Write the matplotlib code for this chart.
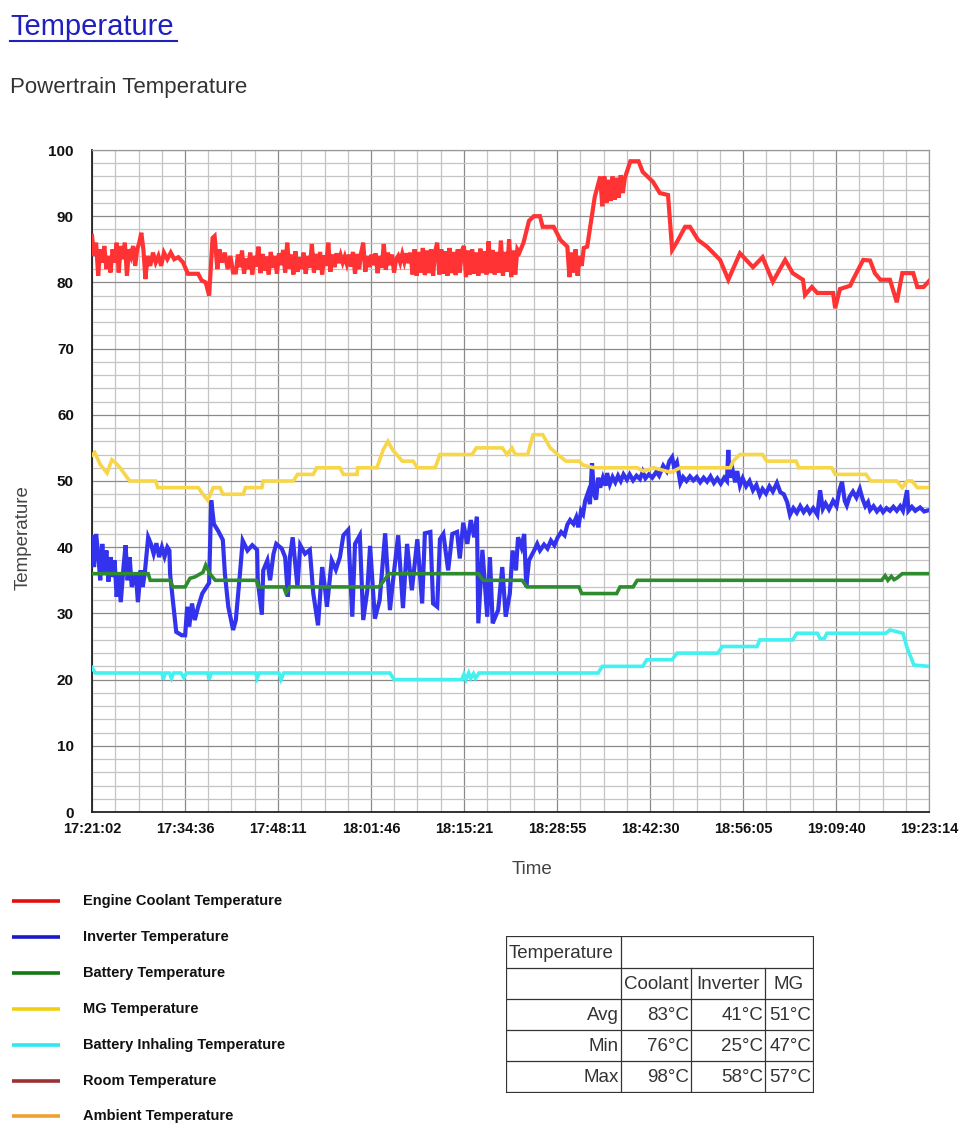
import matplotlib
matplotlib.use("Agg")
import matplotlib.pyplot as plt
from matplotlib.ticker import MultipleLocator
from matplotlib.lines import Line2D

plt.rcParams['font.family'] = ['Liberation Sans', 'DejaVu Sans']

# time axis: minutes after 17:21:02
tick_labels = ['17:21:02', '17:34:36', '17:48:11', '18:01:46', '18:15:21',
               '18:28:55', '18:42:30', '18:56:05', '19:09:40', '19:23:14']
tick_step = 13.578
t_end = 122.2

# Engine Coolant Temperature
coolant = [
    (0.0, 87), (0.3, 84), (0.6, 86), (0.9, 81), (1.2, 85), (1.5, 83), (1.8, 85.5),
    (2.1, 82), (2.4, 84), (2.7, 81.5), (3.0, 85), (3.3, 83), (3.6, 86), (3.9, 81.5),
    (4.2, 85.5), (4.5, 83.5), (4.8, 86), (5.1, 81), (5.4, 85), (5.7, 84), (6.0, 85.5),
    (6.3, 82.5), (6.6, 85), (6.9, 86), (7.2, 87.5), (7.5, 85), (7.8, 80.5), (8.1, 84),
    (8.5, 82.5), (8.9, 84.5), (9.3, 83), (9.7, 84), (10.1, 82.5), (10.5, 84.5),
    (11.0, 83.5), (11.5, 84.5), (12.0, 83.5), (12.6, 83.8), (13.3, 83), (14.0, 81.3),
    (15.5, 81.3), (16.0, 80.3), (16.6, 80), (17.1, 78), (17.6, 86.7), (17.9, 87),
    (18.3, 82), (18.6, 85), (19.0, 83), (19.4, 84.5), (19.8, 82), (20.2, 84), (20.6, 81.5),
    (21.0, 81.5), (21.3, 84.2), (21.6, 82.3), (21.9, 84.8), (22.2, 81.3), (22.5, 83.6),
    (22.8, 82.0), (23.1, 84.5), (23.4, 81.2), (23.7, 84.0), (24.0, 82.4), (24.3, 85.4),
    (24.6, 81.4), (24.9, 84.3), (25.2, 81.8), (25.5, 83.9), (25.8, 81.2), (26.1, 84.6),
    (26.4, 82.2), (26.7, 84.0), (27.0, 81.3), (27.3, 84.4), (27.6, 82.6), (27.9, 84.9),
    (28.2, 81.5), (28.5, 86.0), (28.8, 82.1), (29.1, 84.2), (29.4, 81.2), (29.7, 84.7),
    (30.0, 81.6), (30.3, 83.8), (30.6, 82.0), (30.9, 84.5), (31.2, 81.3), (31.5, 84.0),
    (31.8, 82.2), (32.1, 85.8), (32.4, 81.5), (32.7, 84.3), (33.0, 81.9), (33.3, 84.6),
    (33.6, 81.2), (33.9, 84.1), (34.2, 82.5), (34.5, 86.0), (34.8, 81.6), (35.1, 84.2),
    (35.4, 82.3), (35.7, 84.4), (36.0, 82.9), (36.3, 84.1), (36.6, 83.0), (36.9, 83.9),
    (37.2, 82.8), (37.5, 84.2), (37.8, 82.4), (38.1, 84.6), (38.4, 81.3), (38.7, 84.3),
    (39.0, 82.0), (39.3, 84.5), (39.6, 86.0), (39.9, 81.6), (40.2, 84.0), (40.5, 82.3),
    (40.8, 84.2), (41.1, 82.6), (41.4, 84.4), (41.7, 81.4), (42.0, 84.0), (42.3, 82.2),
    (42.6, 85.8), (42.9, 81.9), (43.2, 84.5), (43.5, 82.6), (43.8, 84.2), (44.1, 81.5),
    (44.4, 83.5), (44.7, 84.0), (45.0, 83.0), (45.3, 84.3), (45.6, 83.1), (45.9, 84.4),
    (46.2, 82.9), (46.5, 84.5), (46.8, 81.2), (47.1, 85.0), (47.4, 81.0), (47.7, 84.6),
    (48.0, 81.5), (48.3, 85.2), (48.6, 81.1), (48.9, 84.8), (49.2, 81.4), (49.5, 85.0),
    (49.8, 81.0), (50.1, 84.7), (50.4, 86.0), (50.7, 81.2), (51.0, 85.0), (51.3, 81.3),
    (51.6, 84.7), (51.9, 81.0), (52.2, 85.2), (52.5, 81.4), (52.8, 84.6), (53.1, 81.1),
    (53.4, 85.0), (53.7, 81.5), (54.0, 84.8), (54.3, 85.5), (54.6, 80.8), (54.9, 84.8),
    (55.2, 81.2), (55.5, 85.0), (55.8, 81.3), (56.1, 84.5), (56.4, 81.0), (56.7, 85.1),
    (57.0, 81.4), (57.3, 84.7), (57.6, 81.2), (57.9, 86.2), (58.2, 81.4), (58.5, 84.9),
    (58.8, 81.2), (59.1, 84.6), (59.4, 81.5), (59.7, 86.3), (60.0, 81.0), (60.3, 84.6),
    (60.6, 81.6), (60.9, 86.5), (61.2, 80.8), (61.5, 84.8), (61.8, 81.2), (62.1, 85.0),
    (62.4, 84.5), (63.0, 86), (63.8, 89.3), (64.5, 90),
    (65.4, 90), (65.8, 88.4), (67.4, 88.4), (68.4, 86.4), (69.4, 85.4), (69.7, 80.8),
    (70.0, 84.5), (70.3, 81.5), (70.6, 85), (70.9, 81), (71.2, 84), (71.5, 82.5),
    (71.8, 85.2), (72.3, 85.4), (73.4, 92.9), (74.2, 96), (74.5, 91.5), (74.8, 96),
    (75.1, 92), (75.4, 95.5), (75.7, 92.3), (76.0, 96), (76.3, 92.5), (76.6, 95.8),
    (76.9, 92.8), (77.2, 96.2), (77.5, 93.5), (77.8, 95.8), (78.6, 98.3), (79.8, 98.3),
    (80.4, 96.7), (81.9, 95.2), (82.9, 93.5), (84.1, 93.2), (84.7, 84.9), (85.4, 86.1),
    (86.6, 88.4), (87.3, 88.4), (88.5, 86.4), (89.8, 85.4), (91.7, 83.4), (92.9, 80.4),
    (94.6, 84.4), (96.5, 82.3), (97.9, 83.8), (99.4, 80.1), (101.2, 83.4), (102.3, 81.4),
    (103.8, 80.4), (104.1, 78.1), (105.1, 79.3), (105.9, 78.4), (108.2, 78.4),
    (108.5, 76.1), (109.2, 79), (110.7, 79.5), (111.1, 80.4), (112.6, 83.4), (113.6, 83.3),
    (114.3, 81.4), (115.1, 80.4), (116.5, 80.4), (117.5, 77), (118.3, 81.4), (119.9, 81.4),
    (120.5, 79.3), (121.4, 79.3), (122.2, 80.2),
]

# Inverter Temperature
inverter = [
    (0.0, 41.5), (0.3, 37), (0.6, 42), (0.9, 39), (1.2, 35), (1.5, 40.5), (1.8, 36),
    (2.1, 39.5), (2.4, 34.8), (2.7, 38.5), (3.0, 35.5), (3.3, 38), (3.6, 32.5), (3.9, 36),
    (4.2, 31.7), (4.6, 37), (4.9, 40.3), (5.2, 35), (5.5, 38.5), (5.8, 34), (6.4, 36),
    (6.7, 31.7), (7.1, 36.5), (7.4, 34), (7.7, 36), (8.2, 41.5), (8.6, 40.5), (9.0, 39),
    (9.4, 40.6), (9.8, 38.5), (10.2, 40), (10.6, 38.6), (11.0, 40), (11.3, 39.5),
    (11.4, 36), (11.8, 32), (12.3, 27.2), (13.1, 26.7), (13.6, 26.7), (13.9, 31),
    (14.2, 28), (14.6, 31.5), (15.0, 29), (15.5, 31), (16.1, 33), (17.1, 34.6),
    (17.4, 47.1), (17.8, 43.5), (18.4, 42.5), (19.1, 41.1), (19.4, 36), (19.9, 31),
    (20.6, 27.5), (21.0, 29), (21.6, 36), (22.0, 41), (22.7, 39.5), (23.4, 40.3),
    (24.1, 39.6), (24.2, 35), (24.8, 29.8), (25.0, 36.5), (25.6, 38), (26.0, 35),
    (26.5, 39), (26.9, 40.5), (27.7, 39.8), (28.2, 38.5), (28.6, 32.5), (28.9, 38.5),
    (29.3, 41.5), (30.0, 34), (30.4, 40.3), (31.1, 39), (31.8, 39.6), (32.3, 33.1),
    (33.0, 28.2), (33.6, 37), (34.0, 34), (34.3, 31), (35.0, 38), (35.6, 36.6),
    (36.2, 38.5), (36.7, 41.8), (37.4, 42.6), (38.0, 29.5), (38.4, 40.5), (39.1, 41.8),
    (39.6, 29), (40.2, 33.5), (40.6, 40.2), (41.3, 29.2), (42.0, 32), (42.8, 42.1),
    (43.5, 30.5), (43.9, 34.5), (44.7, 41.8), (45.4, 30.8), (46.0, 40.5), (46.7, 33.5),
    (47.5, 41.2), (48.2, 31.5), (48.6, 42.1), (49.4, 42.3), (49.8, 31.5), (50.4, 31),
    (50.8, 41.2), (51.3, 42), (52.0, 36.5), (52.6, 42), (53.3, 42.3), (53.7, 38.3),
    (54.2, 43.7), (54.8, 40.5), (55.3, 44.1), (55.8, 41.5), (56.2, 44.6), (56.4, 28.5),
    (57.0, 39.6), (57.7, 29.5), (58.1, 38.5), (58.5, 28.5), (59.3, 30.5), (59.9, 37),
    (60.4, 29.5), (61.0, 33), (61.4, 39.5), (61.9, 36.5), (62.2, 41.5), (62.7, 40),
    (63.1, 42), (63.4, 34), (63.8, 38), (64.6, 39.6), (65.0, 40.5), (65.4, 39.5),
    (66.0, 40.4), (66.5, 39.8), (67.0, 41), (67.5, 40.3), (68.0, 41.5), (68.5, 42.3),
    (69.0, 41.8), (69.4, 43.4), (69.8, 44.1), (70.3, 43.5), (70.7, 44.5), (71.0, 43),
    (71.4, 45.5), (71.7, 45), (72.0, 47), (72.4, 48.2), (72.7, 46.5), (73.0, 52.7),
    (73.3, 48), (73.6, 47.2), (73.9, 50.5), (74.2, 49), (74.6, 50.5), (75.0, 49.3),
    (75.2, 51.2), (75.6, 49.5), (76.0, 50.6), (76.4, 49.8), (76.8, 50.8), (77.2, 50.0),
    (77.6, 51.0), (78.1, 50.2), (78.5, 51.0), (79.0, 50.1), (79.5, 50.8), (80.0, 50.3),
    (80.4, 51.4), (80.8, 50.4), (81.3, 51.0), (81.8, 50.5), (82.4, 51.4), (82.8, 50.8),
    (83.4, 52.3), (83.9, 51.5), (84.3, 53.0), (84.7, 53.6), (85.0, 52.0), (85.4, 52.8),
    (85.9, 49.7), (86.3, 50.6), (86.8, 50.0), (87.3, 50.7), (87.8, 50.1), (88.3, 50.6),
    (88.8, 49.8), (89.3, 50.5), (89.8, 49.9), (90.3, 50.7), (90.8, 49.7), (91.3, 50.4),
    (91.8, 49.6), (92.3, 50.5), (92.7, 50.0), (92.9, 54.7), (93.1, 50.5), (93.5, 51.8),
    (93.9, 49.8), (94.2, 51.5), (94.6, 49.3), (95.0, 50.4), (95.5, 49.2), (96.0, 50.0),
    (96.5, 48.6), (97.0, 49.4), (97.5, 47.9), (97.9, 48.8), (98.4, 48.1), (98.9, 49.2),
    (99.4, 48.4), (100.0, 49.7), (100.5, 48.3), (101.0, 48.0), (101.5, 46.8),
    (101.9, 44.9), (102.4, 45.9), (102.9, 45.2), (103.4, 46.2), (103.9, 45.3),
    (104.4, 46.0), (104.8, 45.2), (105.3, 45.9), (105.9, 44.9), (106.3, 48.6),
    (106.7, 45.8), (107.1, 46.6), (107.6, 45.7), (108.2, 47.0), (108.7, 46.2),
    (109.1, 48.5), (109.5, 49.9), (109.9, 47.0), (110.2, 46.3), (110.6, 47.6),
    (111.1, 48.4), (111.6, 47.5), (112.1, 48.8), (112.5, 47.3), (112.9, 46.2),
    (113.3, 46.8), (113.6, 45.6), (114.1, 46.2), (114.6, 45.4), (115.1, 46.0),
    (115.5, 45.3), (116.0, 45.9), (116.5, 45.5), (117.0, 46.1), (117.5, 45.5),
    (118.0, 46.2), (118.4, 45.5), (119.0, 48.6), (119.2, 45.5), (119.7, 46.1),
    (120.2, 45.5), (120.9, 46.0), (121.5, 45.4), (122.2, 45.6),
]

# Battery Temperature
battery = [
    (0.0, 36), (8.2, 36), (8.5, 35), (11.4, 35), (11.8, 34), (13.6, 34), (14.3, 35.3),
    (15.0, 35.5), (16.2, 36.2), (16.6, 37.3), (17.2, 36), (18.0, 35), (24.0, 35),
    (24.3, 34), (28.0, 34), (28.3, 33.1), (28.9, 34), (41.9, 34), (43.4, 36), (56.4, 36),
    (57.1, 35), (62.8, 35), (63.5, 34), (71.1, 34), (71.5, 33), (76.6, 33), (77.1, 34),
    (79.0, 34), (79.6, 35), (115.3, 35), (115.8, 35.7), (116.2, 35), (116.7, 35.6),
    (117.1, 35.1), (117.6, 35.4), (118.3, 36), (122.2, 36),
]

# MG Temperature
mg = [
    (0.0, 53.9), (0.4, 54.3), (1.2, 52.5), (2.2, 51.2), (2.9, 53.2), (3.4, 52.8),
    (4.1, 52), (5.5, 50), (9.3, 50), (9.6, 49), (15.5, 49), (16.2, 48), (16.9, 47.1),
    (17.7, 49), (18.7, 49), (19.1, 48), (22.1, 48), (22.4, 49), (24.8, 49), (25.0, 50),
    (29.4, 50), (30.0, 51), (32.3, 51), (32.8, 52), (36.2, 52), (36.7, 51), (38.7, 51),
    (38.8, 52), (41.6, 52), (42.5, 54.7), (43.2, 56), (43.9, 54.7), (45.3, 53),
    (46.9, 53), (47.5, 52), (50.1, 52), (50.8, 54), (55.5, 54), (56.1, 55), (59.9, 55),
    (60.6, 54), (61.3, 55), (61.8, 54), (63.6, 54), (64.4, 57), (65.8, 57), (66.9, 55),
    (68.0, 54), (69.2, 53), (71.1, 53), (71.7, 52.4), (73.3, 52), (79.6, 52),
    (80.5, 51.5), (82.0, 52), (84.5, 51.3), (85.9, 52), (93.2, 52), (93.6, 53),
    (94.6, 54), (97.9, 54), (98.5, 53), (102.8, 53), (103.2, 52), (108.0, 52),
    (108.5, 51), (113.0, 51), (113.7, 50), (117.5, 50), (118.3, 49), (119.0, 50),
    (119.7, 50), (120.5, 49), (122.2, 49),
]

# Battery Inhaling Temperature
inhaling = [
    (0.0, 21.8), (0.5, 21), (10.2, 21), (10.4, 20), (10.7, 21), (11.3, 21), (11.6, 20.2),
    (11.9, 21), (13.0, 21), (13.4, 20.3), (13.8, 21), (16.9, 21), (17.1, 20), (17.4, 21),
    (23.9, 21), (24.1, 20.2), (24.4, 21), (27.3, 21), (27.6, 20), (28.0, 21), (43.5, 21),
    (44.1, 20), (54.0, 20), (54.3, 20.8), (54.6, 20), (55.0, 21), (55.3, 20.2),
    (55.7, 20.9), (56.0, 20.2), (56.5, 21), (73.9, 21), (74.5, 22), (80.4, 22), (81.0, 23),
    (84.7, 23), (85.4, 24), (91.4, 24), (92.0, 25), (97.1, 25), (97.5, 26), (102.3, 26),
    (102.9, 27), (105.9, 27), (106.3, 26.2), (106.9, 26.2), (107.3, 27), (115.9, 27),
    (116.5, 27.5), (118.4, 27), (119.0, 24.8), (120.0, 22.2), (122.2, 22),
]

series_names = ['Engine Coolant Temperature', 'Inverter Temperature', 'Battery Temperature',
                'MG Temperature', 'Battery Inhaling Temperature', 'Room Temperature',
                'Ambient Temperature']
series_data = [coolant, inverter, battery, mg, inhaling, [], []]
line_colors = ['#ff3333', '#3333ee', '#2e8b2e', '#f7d64a', '#44f0f0', '#a03030', '#f0a030']
line_widths = [3.0, 3.0, 2.6, 2.6, 2.6, 2.6, 2.6]
legend_colors = ['#e01010', '#1a1acc', '#137a13', '#f0d010', '#30e8f0', '#993333', '#f0a030']

table_rows = [['Temperature', '', '', ''],
              ['', 'Coolant', 'Inverter', 'MG'],
              ['Avg', '83°C', '41°C', '51°C'],
              ['Min', '76°C', '25°C', '47°C'],
              ['Max', '98°C', '58°C', '57°C']]

W, H = 960, 1143
fig = plt.figure(figsize=(W / 100, H / 100), dpi=100)

# page headings
fig.text(10 / W, 1 - 27 / H, 'Temperature', fontsize=21, color='#2020c0', va='center', ha='left')
fig.add_artist(Line2D([10 / W, 177 / W], [1 - 41 / H, 1 - 41 / H], color='#2020c0', lw=1.5))
fig.text(10 / W, 1 - 88 / H, 'Powertrain Temperature', fontsize=16, color='#333333',
         va='center', ha='left')

ax = fig.add_axes([92 / W, 1 - 812 / H, 837 / W, 662 / H])
for data, col, lw in zip(series_data, line_colors, line_widths):
    if data:
        ax.plot([p[0] for p in data], [p[1] for p in data], color=col, lw=lw,
                solid_joinstyle='miter', zorder=3)

ax.set_xlim(0, t_end)
ax.set_ylim(0, 100)
ax.set_xticks([i * tick_step for i in range(len(tick_labels))])
ax.set_xticklabels(tick_labels)
ax.xaxis.set_minor_locator(MultipleLocator(tick_step / 4))
ax.yaxis.set_major_locator(MultipleLocator(10))
ax.yaxis.set_minor_locator(MultipleLocator(2))
ax.grid(which='major', color='#8a8a8a', lw=0.9)
ax.grid(which='minor', color='#c4c4c4', lw=0.9)
ax.set_axisbelow(True)
ax.tick_params(which='both', length=0)
ax.tick_params(axis='y', pad=13, labelsize=11, labelcolor='#111111')
ax.tick_params(axis='x', pad=7, labelsize=10.5, labelcolor='#111111')
for lab in ax.get_xticklabels() + ax.get_yticklabels():
    lab.set_fontweight('bold')
for s in ['top', 'right']:
    ax.spines[s].set_color('#9a9a9a')
    ax.spines[s].set_linewidth(0.9)
for s in ['left', 'bottom']:
    ax.spines[s].set_color('#222222')
    ax.spines[s].set_linewidth(1.3)
ax.set_ylabel('Temperature', fontsize=13.5, color='#444444')
ax.yaxis.set_label_coords(-0.072, 0.415)
ax.set_xlabel('Time', fontsize=13.5, color='#444444')
ax.xaxis.set_label_coords(0.526, -0.074)

# legend
lax = fig.add_axes([0, 1 - 1130 / H, 330 / W, 240 / H])
lax.set_xlim(0, 330)
lax.set_ylim(1130, 890)
lax.axis('off')
for i, (name, col) in enumerate(zip(series_names, legend_colors)):
    y = 901 + i * 35.9
    lax.plot([12, 60], [y, y], color=col, lw=2.6, solid_capstyle='butt')
    lax.text(83, y, name, fontsize=10.5, fontweight='bold', color='#111111', va='center', ha='left')

# summary table
tax = fig.add_axes([506 / W, 1 - 1093 / H, 308 / W, 157 / H])
tax.set_xlim(0, 308)
tax.set_ylim(157, 0)
tax.axis('off')
col_edges = [0, 115, 185, 259, 307]
row_edges = [0, 32, 63, 94, 125, 156]
lc = '#333333'
for y in row_edges:
    tax.plot([0, 307], [y, y], color=lc, lw=0.9)
tax.plot([0, 0], [0, 156], color=lc, lw=0.9)
tax.plot([307, 307], [0, 156], color=lc, lw=0.9)
tax.plot([115, 115], [0, 156], color=lc, lw=0.9)
for x in col_edges[2:4]:
    tax.plot([x, x], [32, 156], color=lc, lw=0.9)
for r, row in enumerate(table_rows):
    yc = (row_edges[r] + row_edges[r + 1]) / 2 + 1
    for c, txt in enumerate(row):
        if not txt:
            continue
        if r == 0:
            tax.text(col_edges[c] + 3, yc, txt, fontsize=13.5, color='#333333', va='center', ha='left')
        elif r == 1:
            tax.text((col_edges[c] + col_edges[c + 1]) / 2, yc, txt, fontsize=13.5,
                     color='#333333', va='center', ha='center')
        else:
            tax.text(col_edges[c + 1] - 2, yc, txt, fontsize=13.5, color='#333333',
                     va='center', ha='right')

fig.savefig('out.png', dpi=100)
